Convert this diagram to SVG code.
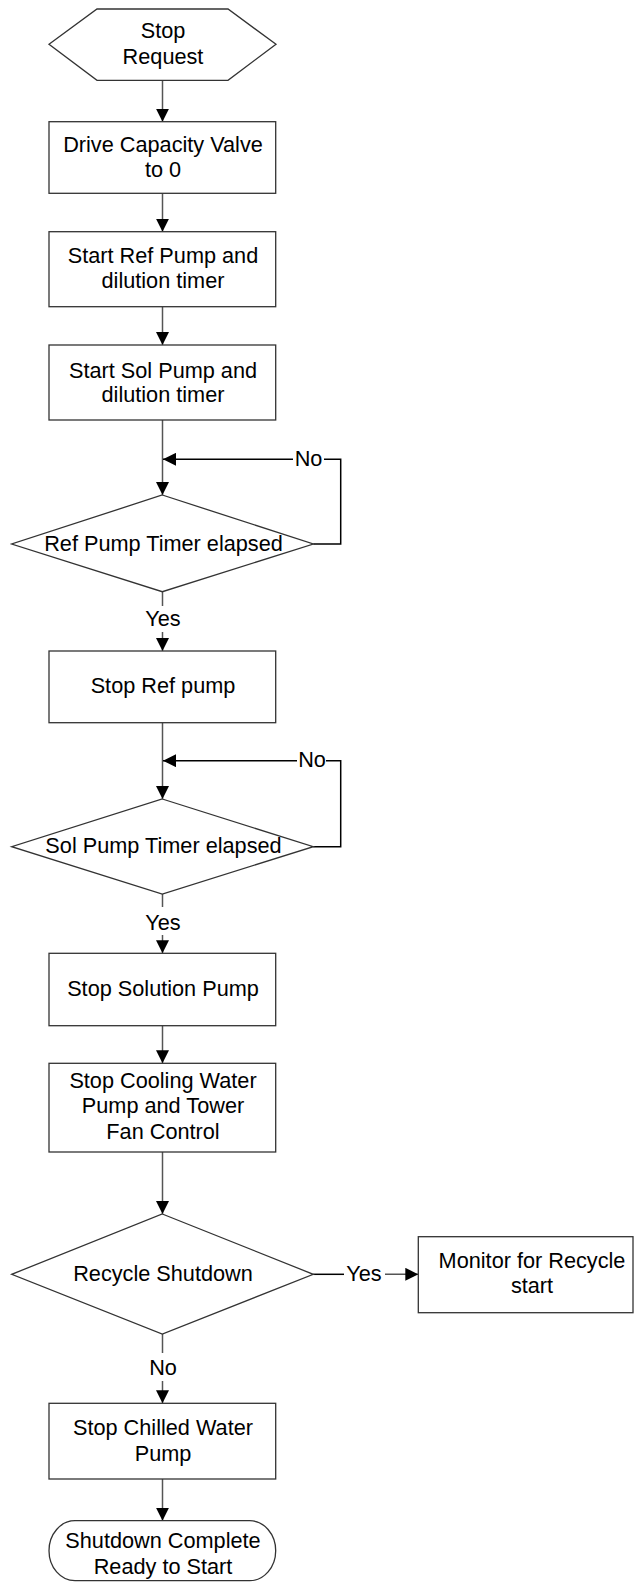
<svg xmlns="http://www.w3.org/2000/svg" width="634" height="1582" viewBox="0 0 634 1582">
<style>
.n{fill:#fff;stroke:#333;stroke-width:1.3}
.t{font-family:"Liberation Sans",Arial,sans-serif;font-size:21.7px;fill:#000;text-anchor:middle}
.c{fill:none;stroke:#555;stroke-width:1.5}
.fb{fill:none;stroke:#000;stroke-width:1.5}
</style>
<defs>
<marker id="ah" markerUnits="userSpaceOnUse" markerWidth="13" markerHeight="13" refX="13" refY="6.5" orient="auto">
<path d="M0,0 L13,6.5 L0,13 z" fill="#000"/>
</marker>
</defs>
<rect width="634" height="1582" fill="#fff"/>
<g id="connectors">
<path class="c" d="M162.5,80.3 V121.7" marker-end="url(#ah)"/>
<path class="c" d="M162.5,193.3 V231.7" marker-end="url(#ah)"/>
<path class="c" d="M162.5,306.7 V345" marker-end="url(#ah)"/>
<path class="c" d="M162.5,420 V495" marker-end="url(#ah)"/>
<path class="fb" d="M313.3,544 H340.7 V459.3 H324"/>
<path class="fb" d="M293,459.3 H163" marker-end="url(#ah)"/>
<text class="t" x="308.5" y="466">No</text>
<path class="c" d="M162.5,591.7 V606"/>
<text class="t" x="163" y="626">Yes</text>
<path class="c" d="M162.5,632 V651" marker-end="url(#ah)"/>
<path class="c" d="M162.5,722.7 V799" marker-end="url(#ah)"/>
<path class="fb" d="M313.3,846.7 H340.7 V760.7 H326"/>
<path class="fb" d="M297,760.7 H163" marker-end="url(#ah)"/>
<text class="t" x="312" y="767">No</text>
<path class="c" d="M162.5,894 V907"/>
<text class="t" x="163" y="930">Yes</text>
<path class="c" d="M162.5,935 V953.3" marker-end="url(#ah)"/>
<path class="c" d="M162.5,1025.7 V1063.3" marker-end="url(#ah)"/>
<path class="c" d="M162.5,1152 V1214" marker-end="url(#ah)"/>
<path class="fb" d="M313.3,1274.3 H344"/>
<text class="t" x="364" y="1281">Yes</text>
<path class="c" d="M385,1274.3 H418.3" marker-end="url(#ah)"/>
<path class="c" d="M162.5,1334 V1353"/>
<text class="t" x="163" y="1375">No</text>
<path class="c" d="M162.5,1381 V1403.3" marker-end="url(#ah)"/>
<path class="c" d="M162.5,1479 V1520.7" marker-end="url(#ah)"/>
</g>
<g id="start">
<polygon class="n" points="49,44.3 97,9 228,9 276,44.3 228,80.3 97,80.3"/>
<text class="t" x="163" y="38">Stop</text>
<text class="t" x="163" y="63.5">Request</text>
</g>
<g id="drive-valve">
<rect class="n" x="49" y="121.7" width="226.7" height="71.6"/>
<text class="t" x="163" y="151.7">Drive Capacity Valve</text>
<text class="t" x="163" y="176.7">to 0</text>
</g>
<g id="start-ref-pump">
<rect class="n" x="49" y="231.7" width="226.7" height="75"/>
<text class="t" x="163" y="262.7">Start Ref Pump and</text>
<text class="t" x="163" y="288.3">dilution timer</text>
</g>
<g id="start-sol-pump">
<rect class="n" x="49" y="345" width="226.7" height="75"/>
<text class="t" x="163" y="377.7">Start Sol Pump and</text>
<text class="t" x="163" y="401.7">dilution timer</text>
</g>
<g id="ref-timer">
<polygon class="n" points="162.3,495 313.3,544 162.3,591.7 11.7,544"/>
<text class="t" x="163.5" y="551">Ref Pump Timer elapsed</text>
</g>
<g id="stop-ref-pump">
<rect class="n" x="49" y="651" width="226.7" height="71.7"/>
<text class="t" x="163" y="693.3">Stop Ref pump</text>
</g>
<g id="sol-timer">
<polygon class="n" points="162.3,799 313.3,846.7 162.3,894 11.7,846.7"/>
<text class="t" x="163.5" y="853.3">Sol Pump Timer elapsed</text>
</g>
<g id="stop-solution-pump">
<rect class="n" x="49" y="953.3" width="226.7" height="72.4"/>
<text class="t" x="163" y="996">Stop Solution Pump</text>
</g>
<g id="stop-cooling">
<rect class="n" x="49" y="1063.3" width="226.7" height="88.7"/>
<text class="t" x="163" y="1088.3">Stop Cooling Water</text>
<text class="t" x="163" y="1113.3">Pump and Tower</text>
<text class="t" x="163" y="1139">Fan Control</text>
</g>
<g id="recycle">
<polygon class="n" points="162.3,1214 313.3,1274.3 162.3,1334 11.7,1274.3"/>
<text class="t" x="163" y="1281">Recycle Shutdown</text>
</g>
<g id="monitor">
<rect class="n" x="418.3" y="1236.7" width="214.7" height="76"/>
<text class="t" x="532" y="1268.3">Monitor for Recycle</text>
<text class="t" x="532" y="1293.3">start</text>
</g>
<g id="stop-chilled">
<rect class="n" x="49" y="1403.3" width="226.7" height="75.7"/>
<text class="t" x="163" y="1435">Stop Chilled Water</text>
<text class="t" x="163" y="1460.7">Pump</text>
</g>
<g id="end">
<rect class="n" x="49" y="1520.7" width="226.7" height="60" rx="26" ry="30"/>
<text class="t" x="163" y="1548.3">Shutdown Complete</text>
<text class="t" x="163" y="1574">Ready to Start</text>
</g>
</svg>
